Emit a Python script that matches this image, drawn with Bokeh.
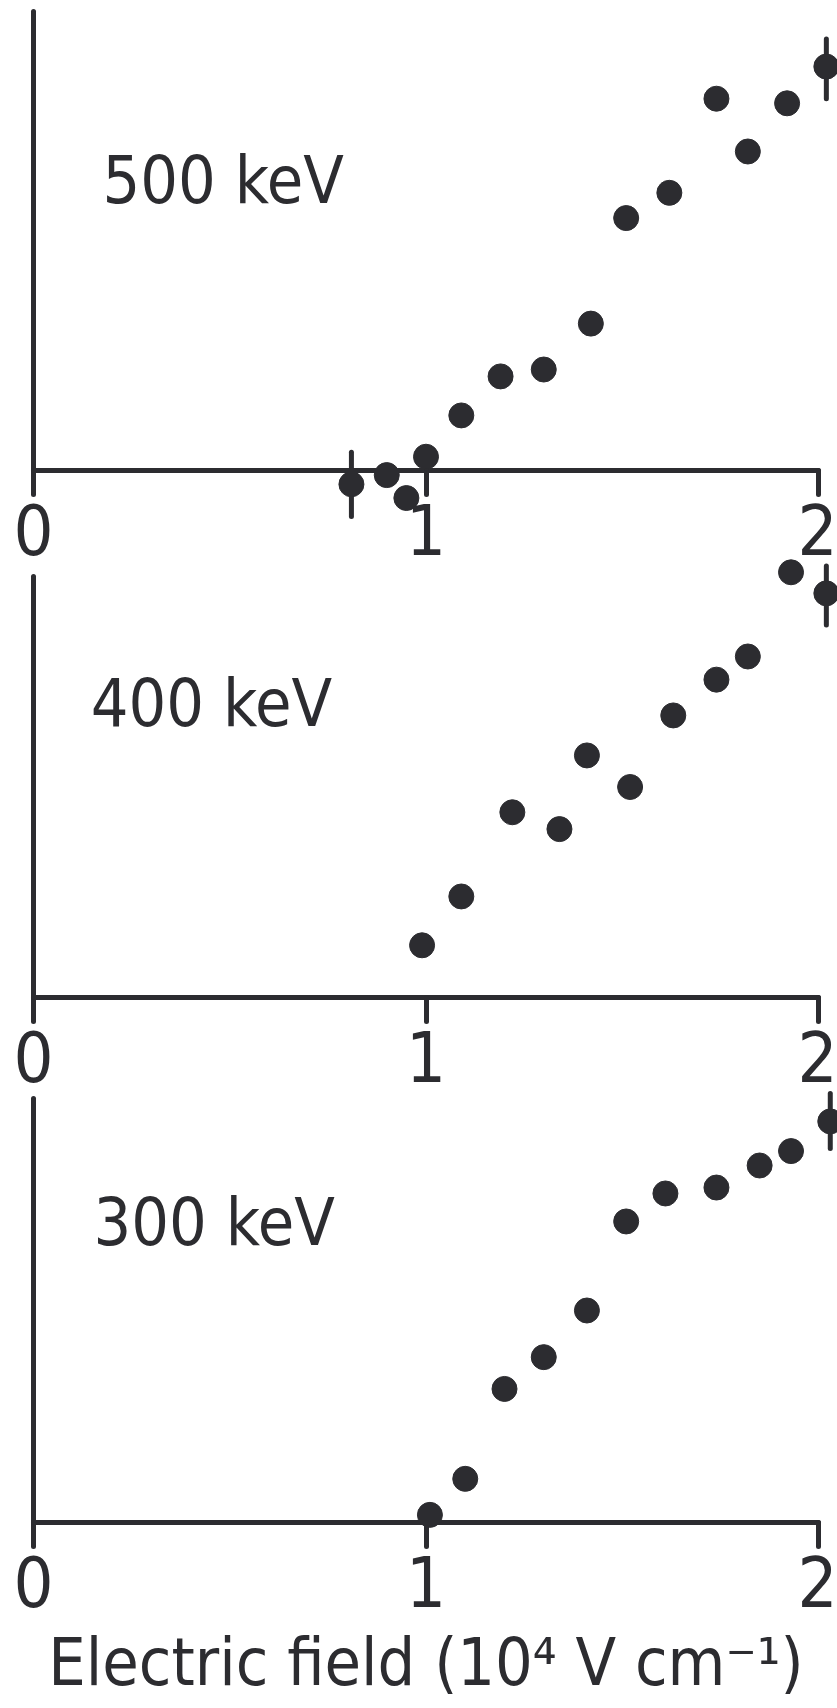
from bokeh.plotting import figure
from bokeh.models import Range1d, LinearAxis, FixedTicker, Label
from bokeh.embed import file_html
from bokeh.resources import INLINE

# Electric field in units of 10^4 V/cm, signal in units of the panel's axis height
field_500 = [0.81, 0.90, 0.95, 1.00, 1.09, 1.19, 1.30, 1.42, 1.51, 1.62, 1.74, 1.82, 1.92, 2.02]
signal_500 = [-0.03, -0.01, -0.06, 0.03, 0.12, 0.205, 0.22, 0.32, 0.55, 0.605, 0.81, 0.695, 0.80, 0.88]
err_field_500 = [0.81, 2.02]
err_low_500 = [-0.10, 0.81]
err_high_500 = [0.04, 0.94]

field_400 = [0.99, 1.09, 1.22, 1.34, 1.41, 1.52, 1.63, 1.74, 1.82, 1.93, 2.02]
signal_400 = [0.124, 0.24, 0.44, 0.40, 0.575, 0.50, 0.67, 0.755, 0.81, 1.01, 0.96]
err_field_400 = [2.02]
err_low_400 = [0.885]
err_high_400 = [1.025]

field_300 = [1.01, 1.10, 1.20, 1.30, 1.41, 1.51, 1.61, 1.74, 1.85, 1.93, 2.03]
signal_300 = [0.018, 0.103, 0.315, 0.39, 0.50, 0.71, 0.776, 0.79, 0.842, 0.876, 0.946]
err_field_300 = [2.03]
err_low_300 = [0.882]
err_high_300 = [1.012]

energy_labels = ["500 keV", "400 keV", "300 keV"]
x_ticks = [0, 1, 2]
x_title = "Electric field (10\u2074 V cm\u207b\u00b9)"

# page geometry (pixels)
W, H = 837, 1708
X0_PX, X2_PX = 33, 818
# (x-axis pixel row, top of y-axis pixel row) for each panel
PANELS = [(470, 11), (997, 576), (1522, 1098)]
LABEL_POS = [(0.176, 0.632), (0.146, 0.699), (0.153, 0.707)]

INK = "#2c2c30"
FONT = "'Liberation Sans Narrow', 'DejaVu Sans Condensed', 'Liberation Sans', sans-serif"
LW = 5

unit = (X2_PX - X0_PX) / 2.0
p = figure(
    width=W, height=H,
    x_range=Range1d(-X0_PX / unit, (W - X0_PX) / unit),
    y_range=Range1d(0, 1),
    x_axis_type=None, y_axis_type=None,
    toolbar_location=None, output_backend="svg",
    min_border=0, outline_line_color=None,
    background_fill_color="white", border_fill_color="white",
)
p.grid.visible = False

series = [
    (field_500, signal_500, err_field_500, err_low_500, err_high_500),
    (field_400, signal_400, err_field_400, err_low_400, err_high_400),
    (field_300, signal_300, err_field_300, err_low_300, err_high_300),
]

for i, ((axis_px, top_px), (fx, sy, ex, elo, ehi)) in enumerate(zip(PANELS, series)):
    name = f"panel{i}"
    span = axis_px - top_px
    p.extra_y_ranges[name] = Range1d((axis_px - H) / span, axis_px / span)

    xaxis = LinearAxis(
        y_range_name=name, fixed_location=0, bounds=(0, 2),
        ticker=FixedTicker(ticks=x_ticks),
        axis_line_color=INK, axis_line_width=LW, axis_line_cap="round", axis_line_join="round",
        major_tick_line_color=INK, major_tick_line_width=LW, major_tick_line_cap="round",
        major_tick_in=0, major_tick_out=24,
        minor_tick_line_color=None,
        major_label_standoff=9,
        major_label_text_font=FONT, major_label_text_font_size="70px",
        major_label_text_color=INK,
    )
    if i == len(PANELS) - 1:
        xaxis.axis_label = x_title
        xaxis.axis_label_text_font = FONT
        xaxis.axis_label_text_font_size = "66px"
        xaxis.axis_label_text_font_style = "normal"
        xaxis.axis_label_text_color = INK
        xaxis.axis_label_standoff = 14
    p.add_layout(xaxis, "below")

    yaxis = LinearAxis(
        y_range_name=name, fixed_location=0, bounds=(0, 1),
        ticker=FixedTicker(ticks=[]),
        axis_line_color=INK, axis_line_width=LW, axis_line_cap="round",
        major_tick_line_color=None, minor_tick_line_color=None,
        major_label_text_font_size="0px",
    )
    p.add_layout(yaxis, "left")

    p.segment(x0=ex, y0=elo, x1=ex, y1=ehi, y_range_name=name,
              line_color=INK, line_width=LW, line_cap="round")
    p.scatter(x=fx, y=sy, y_range_name=name, size=25,
              fill_color=INK, line_color=INK, line_width=1)

    lx, ly = LABEL_POS[i]
    p.add_layout(Label(
        x=lx, y=ly, y_range_name=name, text=energy_labels[i],
        text_font=FONT, text_font_size="66px", text_color=INK,
        text_baseline="alphabetic", text_align="left",
    ))

open("out.html", "w").write(file_html(p, INLINE))
